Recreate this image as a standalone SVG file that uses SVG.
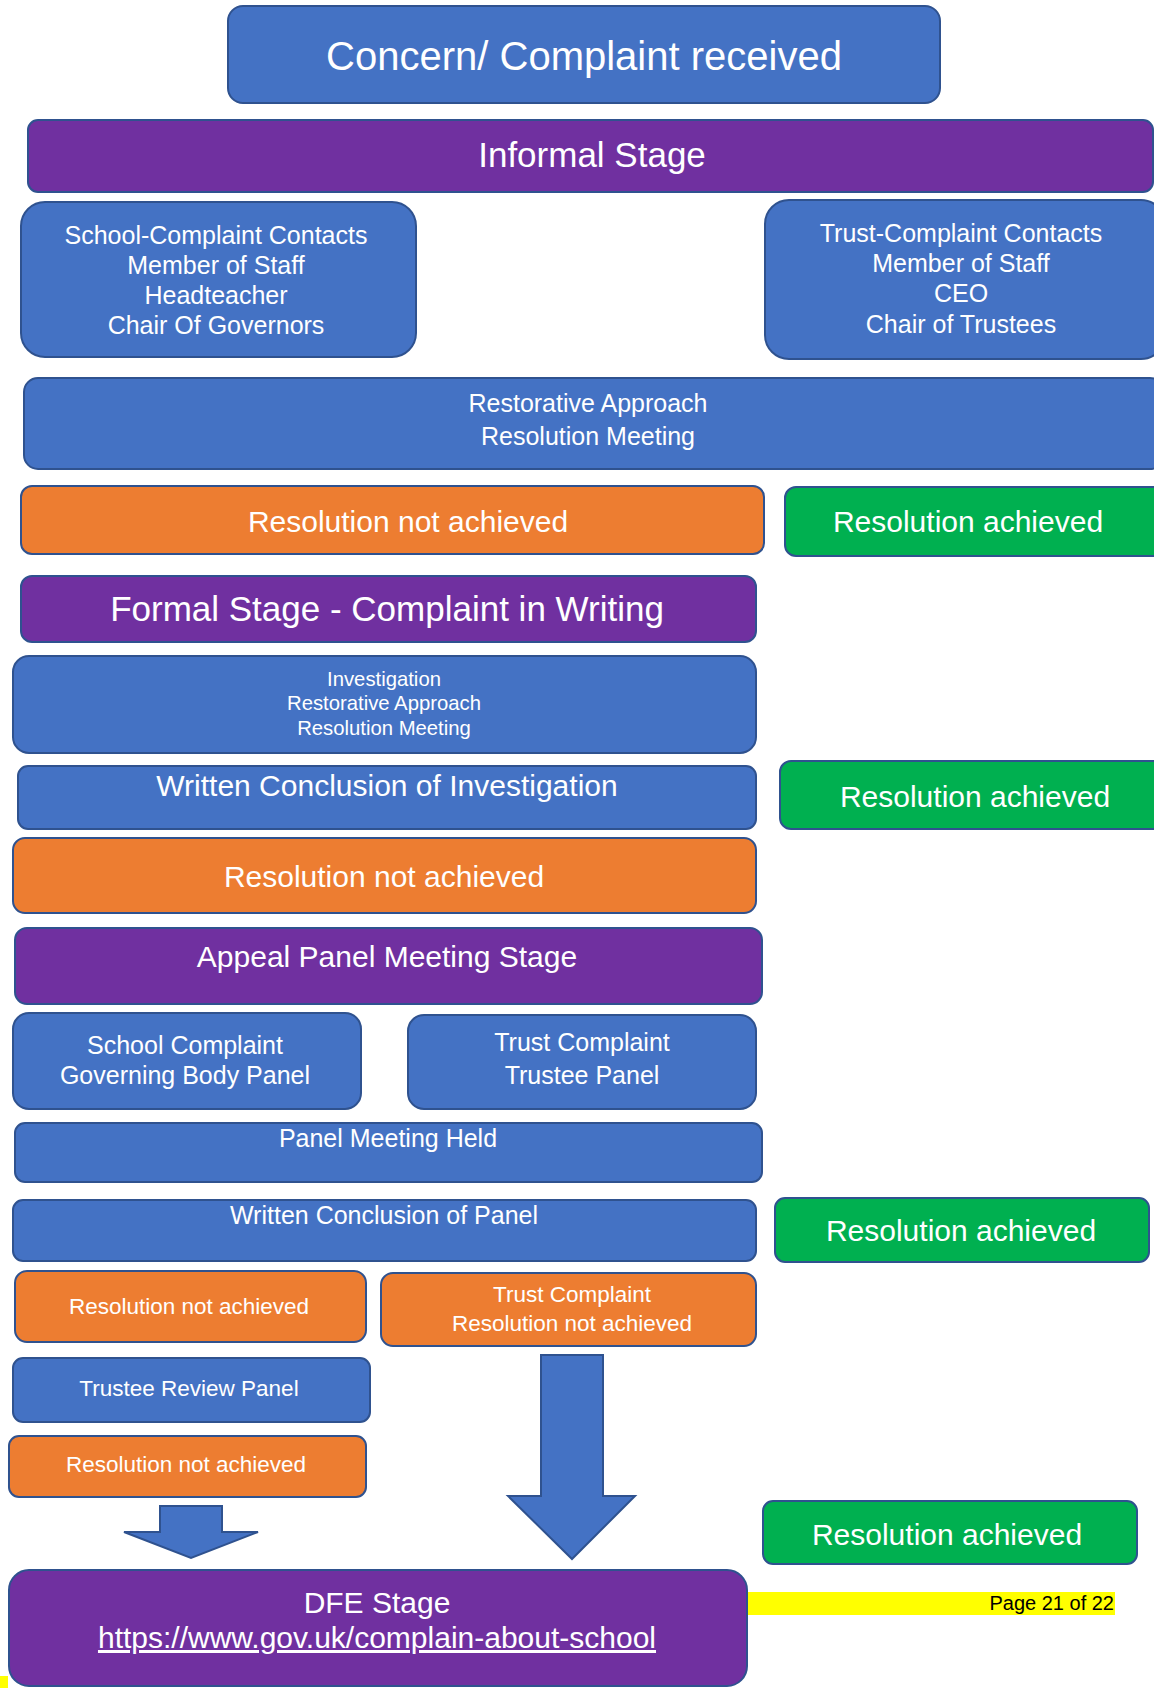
<svg xmlns="http://www.w3.org/2000/svg" width="1154" height="1688" viewBox="0 0 1154 1688">
<style>
.b{fill:#4472C4;stroke:#2F528F;stroke-width:2}
.p{fill:#7030A0;stroke:#2F528F;stroke-width:2}
.o{fill:#ED7D31;stroke:#2F528F;stroke-width:2}
.g{fill:#00B050;stroke:#2F528F;stroke-width:2}
text{font-family:"Liberation Sans",Arial,sans-serif;fill:#fff;text-anchor:middle}
.f40{font-size:40px}.f35{font-size:35px}.f30{font-size:30px}.f24{font-size:25px}.f22{font-size:22.5px}.f20{font-size:20.3px}
</style>
<rect x="0" y="0" width="1154" height="1688" fill="#fff"/>
<g id="concern"><rect class="b" x="228" y="6" width="712" height="97" rx="15"/><text class="f40" x="584" y="70">Concern/ Complaint received</text></g>
<g id="informal"><rect class="p" x="28" y="120" width="1125" height="72" rx="10"/><text class="f35" x="592" y="167">Informal Stage</text></g>
<g id="school-contacts"><rect class="b" x="21" y="202" width="395" height="155" rx="24"/><text class="f24" x="216" y="244">School-Complaint Contacts</text><text class="f24" x="216" y="274">Member of Staff</text><text class="f24" x="216" y="304">Headteacher</text><text class="f24" x="216" y="334">Chair Of Governors</text></g>
<g id="trust-contacts"><rect class="b" x="765" y="200" width="400" height="159" rx="24"/><text class="f24" x="961" y="242">Trust-Complaint Contacts</text><text class="f24" x="961" y="272">Member of Staff</text><text class="f24" x="961" y="302">CEO</text><text class="f24" x="961" y="333">Chair of Trustees</text></g>
<g id="restorative"><rect class="b" x="24" y="378" width="1140" height="91" rx="14"/><text class="f24" x="588" y="412">Restorative Approach</text><text class="f24" x="588" y="445">Resolution Meeting</text></g>
<g id="rna1"><rect class="o" x="21" y="486" width="743" height="68" rx="11"/><text class="f30" x="408" y="532">Resolution not achieved</text></g>
<g id="ra1"><rect class="g" x="785" y="487" width="380" height="69" rx="11"/><text class="f30" x="968" y="532">Resolution achieved</text></g>
<g id="formal"><rect class="p" x="21" y="576" width="735" height="66" rx="11"/><text class="f35" x="387" y="621">Formal Stage - Complaint in Writing</text></g>
<g id="investigation"><rect class="b" x="13" y="656" width="743" height="97" rx="16"/><text class="f20" x="384" y="686">Investigation</text><text class="f20" x="384" y="710">Restorative Approach</text><text class="f20" x="384" y="735">Resolution Meeting</text></g>
<g id="written-investigation"><rect class="b" x="18" y="766" width="738" height="63" rx="10"/><text class="f30" x="387" y="796">Written Conclusion of Investigation</text></g>
<g id="ra2"><rect class="g" x="780" y="761" width="385" height="68" rx="11"/><text class="f30" x="975" y="807">Resolution achieved</text></g>
<g id="rna2"><rect class="o" x="13" y="838" width="743" height="75" rx="12"/><text class="f30" x="384" y="887">Resolution not achieved</text></g>
<g id="appeal"><rect class="p" x="15" y="928" width="747" height="76" rx="12"/><text class="f30" x="387" y="967">Appeal Panel Meeting Stage</text></g>
<g id="school-panel"><rect class="b" x="13" y="1013" width="348" height="96" rx="16"/><text class="f24" x="185" y="1054">School Complaint</text><text class="f24" x="185" y="1084">Governing Body Panel</text></g>
<g id="trust-panel"><rect class="b" x="408" y="1015" width="348" height="94" rx="16"/><text class="f24" x="582" y="1051">Trust Complaint</text><text class="f24" x="582" y="1084">Trustee Panel</text></g>
<g id="panel-held"><rect class="b" x="15" y="1123" width="747" height="59" rx="10"/><text class="f24" x="388" y="1147">Panel Meeting Held</text></g>
<g id="written-panel"><rect class="b" x="13" y="1200" width="743" height="61" rx="10"/><text class="f24" x="384" y="1224">Written Conclusion of Panel</text></g>
<g id="ra3"><rect class="g" x="775" y="1198" width="374" height="64" rx="10"/><text class="f30" x="961" y="1241">Resolution achieved</text></g>
<g id="rna3"><rect class="o" x="15" y="1271" width="351" height="71" rx="12"/><text class="f22" x="189" y="1314">Resolution not achieved</text></g>
<g id="trust-rna"><rect class="o" x="381" y="1273" width="375" height="73" rx="12"/><text class="f22" x="572" y="1302">Trust Complaint</text><text class="f22" x="572" y="1331">Resolution not achieved</text></g>
<g id="trustee-review"><rect class="b" x="13" y="1358" width="357" height="64" rx="10"/><text class="f22" x="189" y="1396">Trustee Review Panel</text></g>
<g id="rna4"><rect class="o" x="9" y="1436" width="357" height="61" rx="10"/><text class="f22" x="186" y="1472">Resolution not achieved</text></g>
<g id="ra4"><rect class="g" x="763" y="1501" width="374" height="63" rx="10"/><text class="f30" x="947" y="1545">Resolution achieved</text></g>
<g id="connectors">
<polygon class="b" points="160,1506 222,1506 222,1532 258,1532 191,1558 124,1532 160,1532"/>
<polygon class="b" points="541,1355 603,1355 603,1496 635,1496 572,1559 508,1496 541,1496"/>
</g>
<rect x="0" y="1676" width="8" height="12" fill="#ffff00"/>
<g id="dfe"><rect class="p" x="9" y="1570" width="738" height="116" rx="20"/><text class="f30" x="377" y="1613">DFE Stage</text><text class="f30" x="377" y="1648" text-decoration="underline">https://www.gov.uk/complain-about-school</text></g>
<g id="page"><rect x="748" y="1592" width="367" height="23" fill="#ffff00"/><text x="1114" y="1610" style="font-size:20px;fill:#000;text-anchor:end">Page 21 of 22</text></g>
</svg>
